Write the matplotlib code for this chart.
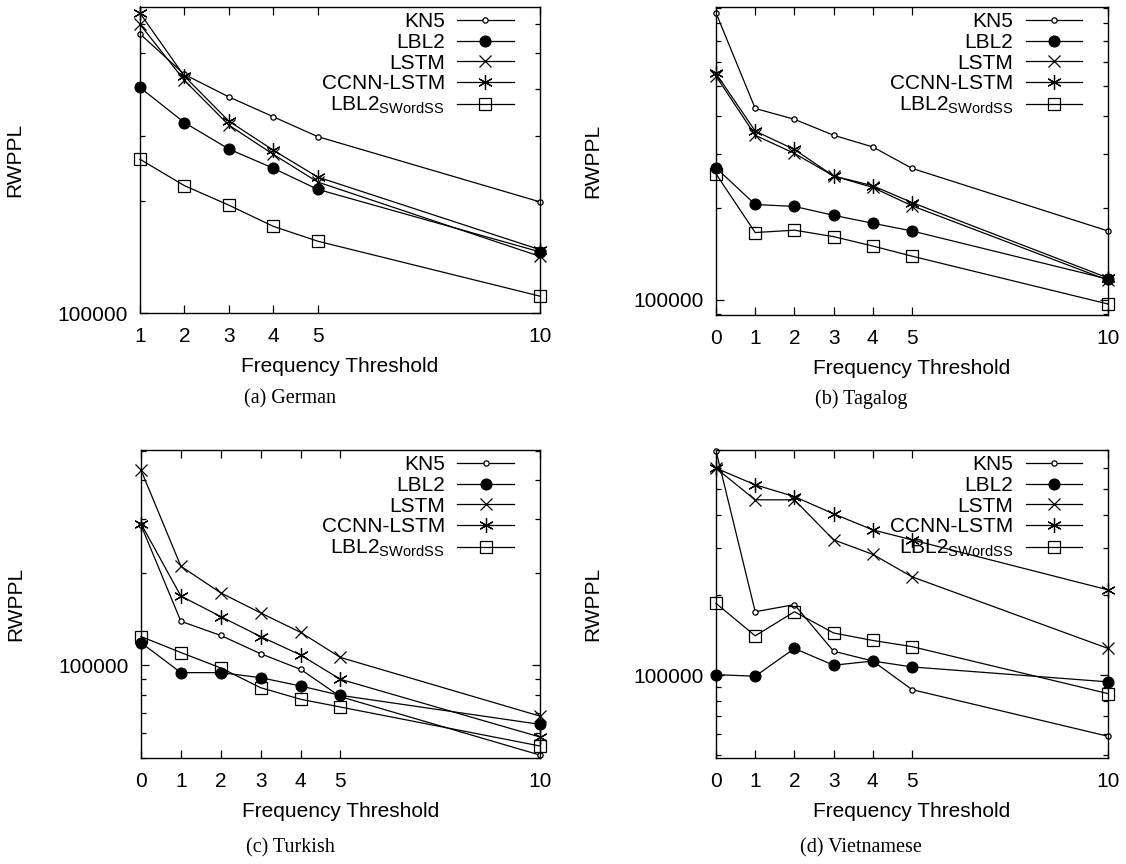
import matplotlib.pyplot as plt
from matplotlib.ticker import FixedLocator, FuncFormatter, LogLocator, NullFormatter

plt.rcParams['font.family'] = ['Liberation Sans', 'DejaVu Sans']
plt.rcParams['font.size'] = 15
plt.rcParams['mathtext.fontset'] = 'custom'
plt.rcParams['mathtext.rm'] = 'Liberation Sans'
plt.rcParams['mathtext.it'] = 'Liberation Sans:italic'
plt.rcParams['mathtext.bf'] = 'Liberation Sans:bold'

labels = ["KN5", "LBL2", "LSTM", "CCNN-LSTM", r"LBL2$_{\mathrm{SWordSS}}$"]

# German (thresholds start at 1)
german_x = [1, 2, 3, 4, 5, 10]
german_kn5 = [563000, 438000, 381000, 337000, 298000, 199000]
german_lbl2 = [404000, 325000, 276000, 245000, 215000, 146000]
german_lstm = [597000, 422000, 320000, 267000, 225000, 142000]
german_ccnn = [640000, 433000, 328000, 274000, 232000, 148000]
german_sword = [259000, 220000, 195000, 171000, 156000, 111000]

# Tagalog
tagalog_x = [0, 1, 2, 3, 4, 5, 10]
tagalog_kn5 = [865000, 422000, 389000, 345000, 316000, 269000, 168000]
tagalog_lbl2 = [270000, 205000, 202000, 189000, 178000, 168000, 117000]
tagalog_lstm = [538000, 345000, 301000, 254000, 233000, 203000, 116000]
tagalog_ccnn = [549000, 356000, 310000, 254000, 236000, 208000, 118000]
tagalog_sword = [258000, 166000, 169000, 161000, 150000, 139000, 97000]

# Turkish
turkish_x = [0, 1, 2, 3, 4, 5, 10]
turkish_kn5 = [286000, 139000, 125000, 109000, 97000, 79000, 51000]
turkish_lbl2 = [118500, 94600, 94600, 91100, 85600, 79800, 64200]
turkish_lstm = [432000, 210000, 172000, 148000, 128000, 106000, 68300]
turkish_ccnn = [289000, 168000, 144000, 124000, 108000, 90000, 58400]
turkish_sword = [124000, 110000, 98000, 84500, 77500, 73100, 54600]

# Vietnamese
vietnamese_x = [0, 1, 2, 3, 4, 5, 10]
vietnamese_kn5 = [695000, 173000, 184000, 123000, 113000, 88300, 59000]
vietnamese_lbl2 = [100500, 99100, 126000, 109000, 113000, 107400, 94400]
vietnamese_lstm = [598000, 455000, 455000, 322000, 284000, 234000, 126000]
vietnamese_ccnn = [598000, 518000, 468000, 403000, 351000, 322000, 209000]
vietnamese_sword = [186000, 140500, 173000, 144000, 135000, 128000, 85300]

styles = [
    dict(marker='o', ms=3.8, mfc='white', mew=0.9),
    dict(marker='o', ms=7.8, mfc='black', mew=0.9),
    dict(marker='x', ms=8.5, mew=0.9),
    dict(marker=(6, 2, 0), ms=10.5, mew=0.9),
    dict(marker='s', ms=8.5, mfc='none', mew=0.9),
]

fig = plt.figure(figsize=(11.26, 8.64), dpi=100)


def panel(rect, x, series, xticks, ylim, caption, cap_xy, ylab_x):
    ax = fig.add_axes(rect)
    for ys, lab, st in zip(series, labels, styles):
        ax.plot(x, ys, color='black', lw=0.9, label=lab, clip_on=False, **st)
    ax.set_yscale('log')
    ax.set_ylim(*ylim)
    ax.set_xlim(xticks[0], xticks[-1])
    ax.xaxis.set_major_locator(FixedLocator(xticks))
    ax.yaxis.set_major_locator(FixedLocator([100000]))
    ax.yaxis.set_major_formatter(FuncFormatter(lambda v, p: f"{v:.0f}"))
    ax.yaxis.set_minor_locator(LogLocator(base=10, subs=(2, 3, 4, 5, 6, 7, 8, 9)))
    ax.yaxis.set_minor_formatter(NullFormatter())
    ax.tick_params(which='both', direction='in', top=True, right=True, width=0.9)
    ax.tick_params(which='major', length=6, pad=10, labelsize=15)
    ax.tick_params(axis='y', which='major', pad=9)
    ax.tick_params(which='minor', length=3.5)
    for s in ax.spines.values():
        s.set_linewidth(1.0)
    ax.set_xlabel("Frequency Threshold", fontsize=15, labelpad=8)
    ax.set_ylabel("RWPPL", fontsize=15)
    ax.yaxis.set_label_coords(ylab_x, 0.5)
    leg = ax.legend(loc='upper right', bbox_to_anchor=(0.955, 1.01), frameon=False,
                    markerfirst=False, handlelength=2.7, handletextpad=0.6,
                    labelspacing=0.08, borderaxespad=0, fontsize=15)
    leg._legend_box._children[-1]._children[0].align = 'right'
    fig.text(cap_xy[0], cap_xy[1], caption, ha='center', va='center',
             family='Liberation Serif', fontsize=14.5)
    return ax


panel([0.1243, 0.6377, 0.3552, 0.354], german_x,
      [german_kn5, german_lbl2, german_lstm, german_ccnn, german_sword],
      [1, 2, 3, 4, 5, 10], (100000, 664000), "(a) German", (0.2575, 1 - 399 / 864), -0.29)
panel([0.6359, 0.6354, 0.3481, 0.3565], tagalog_x,
      [tagalog_kn5, tagalog_lbl2, tagalog_lstm, tagalog_ccnn, tagalog_sword],
      [0, 1, 2, 3, 4, 5, 10], (89300, 905000), "(b) Tagalog", (0.765, 1 - 399 / 864), -0.29)
panel([0.1252, 0.1227, 0.3543, 0.3565], turkish_x,
      [turkish_kn5, turkish_lbl2, turkish_lstm, turkish_ccnn, turkish_sword],
      [0, 1, 2, 3, 4, 5, 10], (49900, 502000), "(c) Turkish", (0.2575, 1 - 848 / 864), -0.29)
panel([0.6359, 0.1227, 0.3481, 0.3565], vietnamese_x,
      [vietnamese_kn5, vietnamese_lbl2, vietnamese_lstm, vietnamese_ccnn, vietnamese_sword],
      [0, 1, 2, 3, 4, 5, 10], (48900, 700000), "(d) Vietnamese", (0.765, 1 - 848 / 864), -0.29)

plt.savefig("out.png", dpi=100)
